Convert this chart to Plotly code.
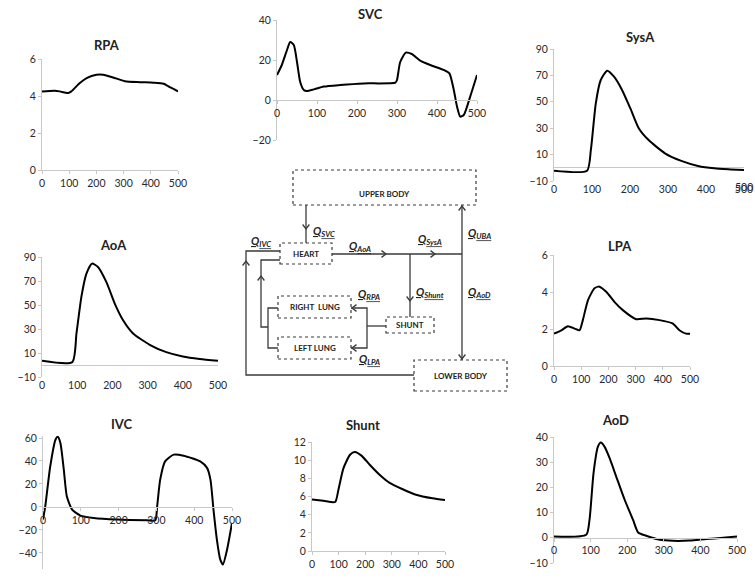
import plotly.graph_objects as go

W, H = 755, 578

# ---------------- data ----------------
rpa_x = [0, 47, 65, 96, 108, 139, 164, 200, 225, 262, 305, 360, 410, 447, 472, 500]
rpa_y = [4.25, 4.28, 4.25, 4.16, 4.25, 4.7, 4.97, 5.15, 5.15, 5.0, 4.8, 4.75, 4.72, 4.66, 4.46, 4.25]

svc_x = [0, 12, 25, 33, 42, 50, 58, 67, 75, 92, 117, 158, 217, 296, 300, 308, 322, 337, 358, 383, 417, 431, 442, 450, 458, 467, 483, 500]
svc_y = [12.5, 17.5, 25, 29, 27.5, 19, 9, 5, 4.5, 5.3, 6.7, 7.5, 8.3, 8.7, 10, 19, 23.7, 23, 19.7, 17.5, 15, 13.3, 5, -3.3, -8.3, -7.5, 1.7, 12.5]

sysa_x = [0, 87, 97, 110, 123, 140, 158, 179, 201, 223, 249, 292, 335, 379, 422, 465, 500]
sysa_y = [-2.2, -2.2, 13.5, 48.8, 66.5, 73.6, 69, 59, 45, 30, 21, 11, 5.2, 1.4, -0.4, -1.2, -1.7]

aoa_x = [0, 86, 98, 112, 126, 142, 159, 183, 207, 230, 258, 306, 353, 400, 448, 500]
aoa_y = [3.5, 2.4, 26.5, 57, 76, 84.5, 81.7, 69, 51, 37.5, 26.5, 16.8, 10.7, 7.1, 5, 3.5]

lpa_x = [0, 27, 51, 76, 94, 106, 125, 149, 167, 192, 222, 253, 302, 339, 388, 436, 461, 485, 500]
lpa_y = [1.75, 1.93, 2.15, 2.02, 1.93, 2.48, 3.56, 4.2, 4.29, 4.01, 3.47, 3.02, 2.53, 2.57, 2.48, 2.3, 1.93, 1.75, 1.75]

ivc_x = [0, 6, 19, 33, 39, 46, 55, 63, 77, 99, 134, 196, 275, 297, 302, 310, 323, 346, 372, 416, 434, 443, 451, 460, 469, 476, 487, 500]
ivc_y = [-11, 0.6, 35, 58.5, 61, 55.6, 32.5, 9.3, -2.3, -7.5, -9.6, -11, -11.6, -11.6, 0.6, 23.8, 39.7, 45.5, 44.6, 39.7, 34, 23.8, -2.3, -28.4, -45.8, -50, -37, -14]

shunt_x = [0, 43, 87, 99, 118, 143, 161, 186, 217, 254, 292, 341, 391, 453, 500]
shunt_y = [5.68, 5.53, 5.39, 6.7, 9.1, 10.6, 10.9, 10.5, 9.5, 8.4, 7.5, 6.8, 6.2, 5.8, 5.6]

aod_x = [0, 88, 97, 108, 120, 128, 138, 152, 170, 193, 216, 230, 252, 289, 325, 371, 416, 462, 500]
aod_y = [0.5, 1.2, 7.1, 25.7, 36.2, 37.8, 36.2, 31.6, 24.3, 15.1, 7.1, 2.1, 0.8, -0.8, -1.2, -1.1, -0.5, 0, 0.5]

x_ticks = [0, 100, 200, 300, 400, 500]

# ---------------- layout helpers ----------------
def X(px):
    return px / W

def Y(py):
    return 1 - py / H

FONT = "Lato, 'Liberation Sans', Arial, sans-serif"
AX_COL = "#c8c8c8"
TXT = "#2a2a2a"

# name, series, title pos, plot box px (left, right, top, bottom), y range, y ticks, x-axis mode
panels = [
    ("RPA", rpa_x, rpa_y, (107, 45), (42, 178, 59, 170), [0, 6], [0, 2, 4, 6], "bottom"),
    ("SVC", svc_x, svc_y, (370, 14), (277, 477, 20, 140), [-20, 40], [-20, 0, 20, 40], "zero"),
    ("SysA", sysa_x, sysa_y, (640, 37), (554, 744, 49, 181), [-10, 90], [-10, 10, 30, 50, 70, 90], "low"),
    ("AoA", aoa_x, aoa_y, (113, 245), (42, 218, 257, 377), [-10, 90], [-10, 10, 30, 50, 70, 90], "low"),
    ("LPA", lpa_x, lpa_y, (620, 246), (554, 690, 255, 366), [0, 6], [0, 2, 4, 6], "bottom"),
    ("IVC", ivc_x, ivc_y, (122, 424), (43, 232, 435.7, 569), [-54, 62], [-40, -20, 0, 20, 40, 60], "zero"),
    ("Shunt", shunt_x, shunt_y, (363, 425), (312, 445, 442, 551), [0, 12], [0, 2, 4, 6, 8, 10, 12], "bottom"),
    ("AoD", aod_x, aod_y, (615, 420), (554, 737, 437, 563), [-10, 40], [-10, 0, 10, 20, 30, 40], "zero"),
]

fig = go.Figure()
layout = dict(
    width=W, height=H, autosize=False,
    margin=dict(l=0, r=0, t=0, b=0, pad=0, autoexpand=False),
    paper_bgcolor="white", plot_bgcolor="white",
    showlegend=False,
    font=dict(family=FONT, size=10.5, color=TXT),
)
annotations = []
shapes = []

for i, (name, xs, ys, tpos, box, yr, yt, mode) in enumerate(panels, start=1):
    l, r, t, b = box
    xa = "xaxis" if i == 1 else f"xaxis{i}"
    ya = "yaxis" if i == 1 else f"yaxis{i}"
    xr = "x" if i == 1 else f"x{i}"
    yrf = "y" if i == 1 else f"y{i}"
    fig.add_trace(go.Scatter(
        x=xs, y=ys, mode="lines", xaxis=xr, yaxis=yrf,
        line=dict(color="black", width=2, shape="spline", smoothing=0.6),
        hoverinfo="skip", cliponaxis=False,
    ))
    dy0, dy1 = Y(b), Y(t)
    xdict = dict(domain=[X(l), X(r)], range=[0, 500], tickvals=x_ticks,
                 ticktext=[str(v) for v in x_ticks],
                 showgrid=False, zeroline=False, ticks="outside", ticklen=3,
                 tickcolor=AX_COL, linecolor=AX_COL, linewidth=1, automargin=False,
                 ticklabeloverflow="allow",
                 tickfont=dict(family=FONT, size=10.5, color=TXT), fixedrange=True)
    ydict = dict(domain=[dy0, dy1], range=yr, tickvals=yt, anchor=xr,
                 showgrid=False, showline=True, ticks="outside", ticklen=3,
                 tickcolor=AX_COL, linecolor=AX_COL, linewidth=1, automargin=False,
                 ticklabeloverflow="allow",
                 tickfont=dict(family=FONT, size=10.5, color=TXT), fixedrange=True,
                 zeroline=False)
    if mode == "zero":
        pos = dy0 + (0 - yr[0]) / (yr[1] - yr[0]) * (dy1 - dy0)
        xdict.update(anchor="free", position=pos, showline=True)
    elif mode == "low":
        xdict.update(anchor="free", position=dy0, showline=False, ticks="")
        ydict.update(zeroline=True, zerolinecolor=AX_COL, zerolinewidth=1)
    else:
        xdict.update(anchor=yrf, showline=True)
    layout[xa] = xdict
    layout[ya] = ydict
    annotations.append(dict(
        text=f"<b>{name}</b>", x=X(tpos[0]), y=Y(tpos[1]), xref="paper", yref="paper",
        showarrow=False, xanchor="center", yanchor="middle",
        font=dict(family=FONT, size=13, color="#222222"),
    ))

# the last SysA tick label sits at the very edge of the page and is dropped by
# plotly's overflow check, so it is placed through the axis scale instead
annotations.append(dict(
    text=str(x_ticks[-1]), x=x_ticks[-1], xref="x3", y=Y(187.5), yref="paper",
    showarrow=False, xanchor="center", yanchor="middle",
    font=dict(family=FONT, size=10.5, color=TXT),
))

# ---------------- block diagram ----------------
LC = "#3a3a3a"

def box(l, t, r, b, label):
    shapes.append(dict(type="rect", xref="paper", yref="paper",
                       x0=X(l), x1=X(r), y0=Y(b), y1=Y(t),
                       line=dict(color=LC, width=1.2, dash="dot"), fillcolor="white"))
    annotations.append(dict(text=f"<b>{label}</b>", x=X((l + r) / 2), y=Y((t + b) / 2),
                            xref="paper", yref="paper", showarrow=False,
                            font=dict(family=FONT, size=8, color="#222222")))

def seg(pts):
    path = "M " + " L ".join(f"{X(px):.5f} {Y(py):.5f}" for px, py in pts)
    shapes.append(dict(type="path", xref="paper", yref="paper", path=path,
                       line=dict(color=LC, width=1.3)))

def arrow(px, py, dx, dy, s=4.5):
    nx, ny = -dy, dx
    a = (px - s * dx + 0.75 * s * nx, py - s * dy + 0.75 * s * ny)
    c = (px - s * dx - 0.75 * s * nx, py - s * dy - 0.75 * s * ny)
    seg([a, (px, py), c])

def qlabel(px, py, sub):
    annotations.append(dict(
        text=f"<u><b><i>Q</i></b><sub><b><i>{sub}</i></b></sub></u>",
        x=X(px), y=Y(py), xref="paper", yref="paper", showarrow=False,
        xanchor="left", yanchor="middle",
        font=dict(family=FONT, size=11, color="#222222")))

# connecting lines
seg([(306, 205), (306, 243)])                       # upper body -> heart (SVC)
seg([(280, 251), (246, 251), (246, 375), (414, 375)])  # lower body -> heart (IVC)
seg([(280, 260), (261, 260), (261, 327), (268, 327)])  # lungs -> heart
seg([(278, 308), (268, 308), (268, 348), (278, 348)])
seg([(332, 254), (462, 254)])                       # AoA -> SysA
seg([(410, 254), (410, 317)])                       # shunt branch
seg([(462, 205), (462, 360)])                       # UBA / AoD
seg([(351, 308), (367, 308), (367, 348), (351, 348)])  # shunt -> lungs
seg([(367, 326), (386, 326)])

# arrow heads
arrow(306, 229, 0, 1)
arrow(246, 261, 0, -1)
arrow(261, 276, 0, -1)
arrow(352, 308, -1, 0)
arrow(352, 348, -1, 0)
arrow(386, 254, 1, 0)
arrow(435, 254, 1, 0)
arrow(410, 301, 0, 1)
arrow(462, 206, 0, -1)
arrow(462, 359, 0, 1)

# boxes
box(293, 170, 476, 205, "UPPER BODY")
box(280, 243, 332, 264, "HEART")
box(278, 296, 351, 318, "RIGHT  LUNG")
box(278, 337, 351, 359, "LEFT LUNG")
box(386, 317, 434, 333, "SHUNT")
box(414, 360, 507, 391, "LOWER BODY")

# flow labels
qlabel(311, 231, "SVC")
qlabel(249, 241, "IVC")
qlabel(347, 246, "AoA")
qlabel(416, 240, "SysA")
qlabel(466, 233, "UBA")
qlabel(414, 292, "Shunt")
qlabel(466, 292, "AoD")
qlabel(356, 294, "RPA")
qlabel(357, 359, "LPA")

layout["annotations"] = annotations
layout["shapes"] = shapes
fig.update_layout(**layout)
fig.write_html(
    "out.html",
    config={"displayModeBar": False, "responsive": False},
    post_script="document.body.style.margin='0';document.body.style.overflow='hidden';",
)
